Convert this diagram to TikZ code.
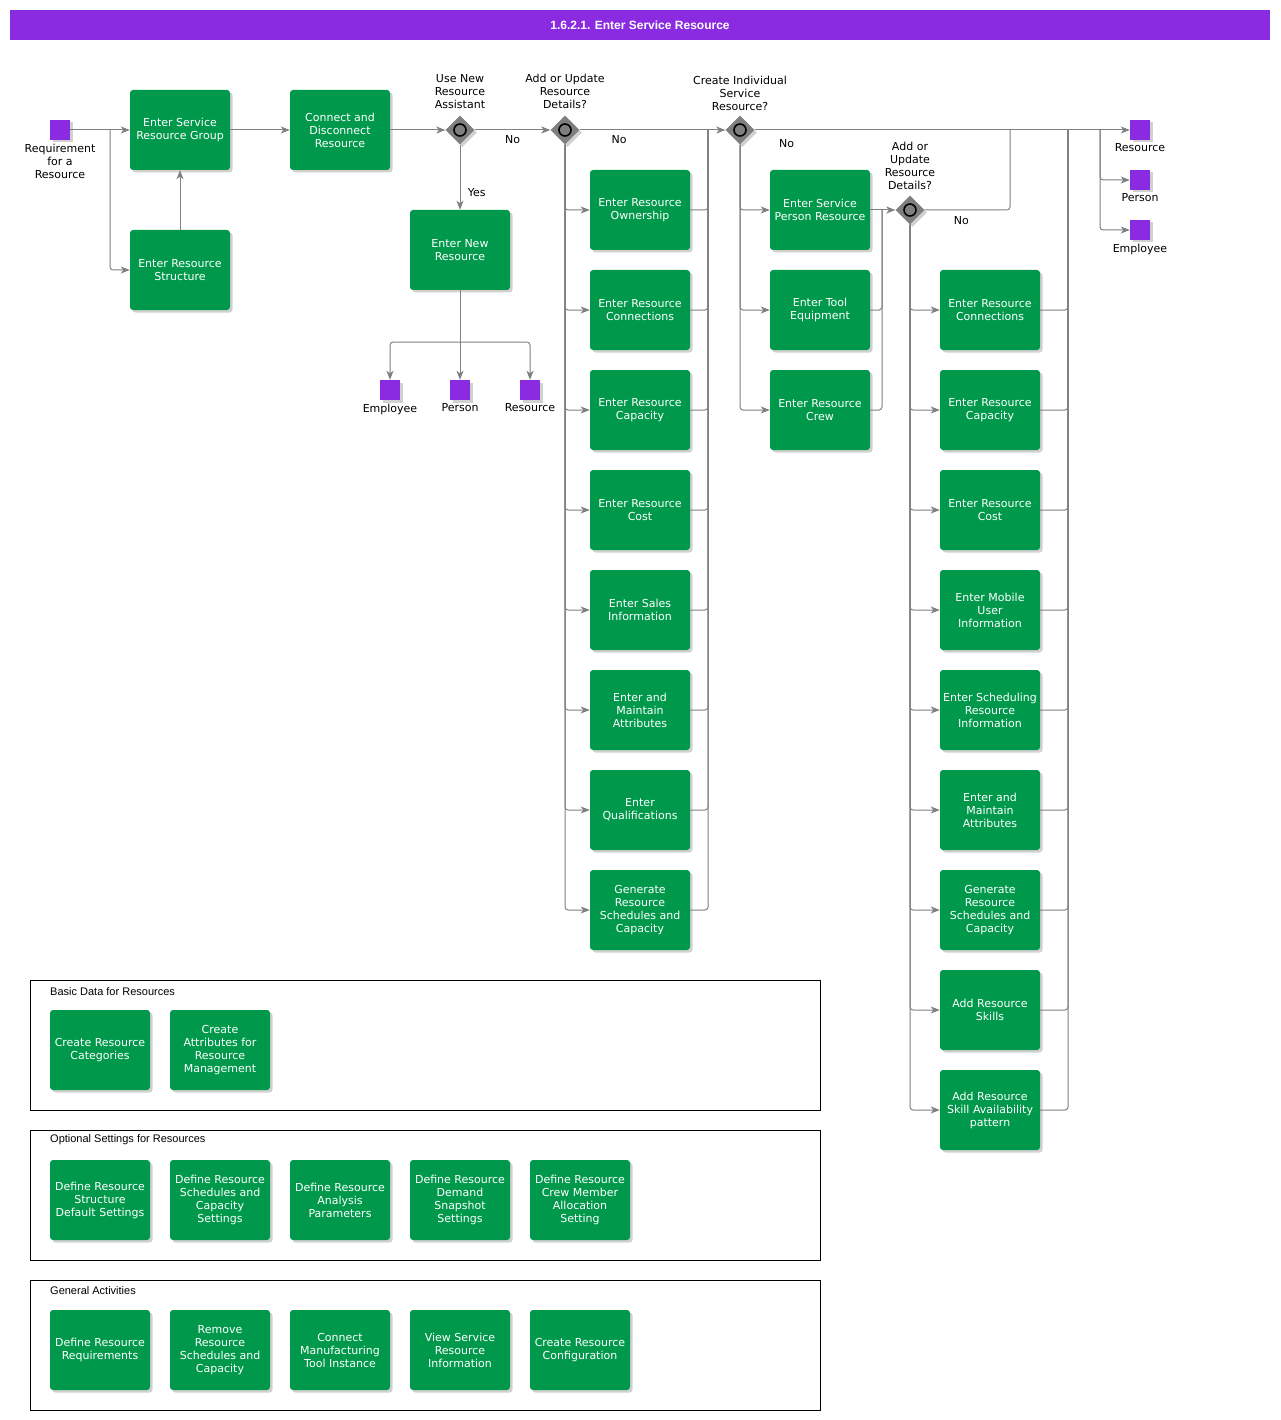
\documentclass[tikz,border=0pt]{standalone}
\usepackage{fontspec}
\setmainfont{DejaVu Sans}
\newfontfamily\lanefont{Liberation Sans}
\usepackage{tikz}
\usetikzlibrary{arrows.meta,positioning,shapes.geometric,shadows}
\usepackage{xcolor}
\definecolor{taskgreen}{HTML}{00994C}
\definecolor{evpurple}{HTML}{8A2BE2}
\definecolor{flowgray}{HTML}{808080}
\definecolor{gwgray}{HTML}{7F7F7F}

\begin{document}
\begin{tikzpicture}[
  x=1pt, y=-1pt,
  font=\fontsize{11}{13}\selectfont,
  every node/.style={align=center},
  softshadow/.style={drop shadow={shadow xshift=2.5pt, shadow yshift=-2.5pt,
                     fill=black!30, opacity=0.6}},
  task/.style={rectangle, rounded corners=3pt, fill=taskgreen, text=white,
               minimum width=100pt, minimum height=80pt, inner sep=1pt, softshadow},
  gate/.style={diamond, fill=gwgray, minimum width=29pt, minimum height=29pt,
               inner sep=0pt, softshadow,
               path picture={\draw[line width=1.6pt, fill=gwgray]
                 (path picture bounding box.center) circle (6pt);}},
  ev/.style={rectangle, fill=evpurple, minimum size=20pt, inner sep=0pt, softshadow},
  lane/.style={draw=black, line width=1pt, minimum width=790pt,
               minimum height=130pt, inner sep=0pt},
  lanetitle/.style={anchor=west, inner sep=0pt,
                    font=\lanefont\fontsize{11}{13}\selectfont},
  flow/.style={draw=flowgray, line width=1pt, rounded corners=3pt},
  arr/.style={flow, -{Stealth[length=9pt, width=7pt, inset=2.5pt]}}
]
\useasboundingbox (0,0) rectangle (1280,1420);

% title bar
\node[fill=evpurple, minimum width=1260pt, minimum height=30pt, text=white,
      font=\lanefont\bfseries\fontsize{12}{14}\selectfont] (title) at (640,25)
      {1.6.2.1. Enter Service Resource};

% start and first tasks
\node[ev, label={below:Requirement\\for a\\Resource}] (req) at (60,130) {};
\node[task] (esrg) at (180,130) {Enter Service\\Resource Group};
\node[task] (ers) at (180,270) {Enter Resource\\Structure};
\node[task] (cdr) at (340,130) {Connect and\\Disconnect\\Resource};

% gateways
\node[gate, label={[label distance=3pt]above:Use New\\Resource\\Assistant}] (g1) at (460,130) {};
\node[gate, label={[label distance=3pt]above:Add or Update\\Resource\\Details?}] (g2) at (565,130) {};
\node[gate, label={[label distance=1pt]above:Create Individual\\Service\\Resource?}] (g3) at (740,130) {};
\node[gate, label={[label distance=2pt]above:Add or\\Update\\Resource\\Details?}] (g4) at (910,210) {};

% new resource branch
\node[task] (enr) at (460,250) {Enter New\\Resource};
\node[ev, label={below:Employee}] (pemp) at (390,390) {};
\node[ev, label={below:Person}] (pper) at (460,390) {};
\node[ev, label={below:Resource}] (pres) at (530,390) {};

% resource details
\node[task] (own) at (640,210) {Enter Resource\\Ownership};
\node[task] (con1) at (640,310) {Enter Resource\\Connections};
\node[task] (cap1) at (640,410) {Enter Resource\\Capacity};
\node[task] (cost1) at (640,510) {Enter Resource\\Cost};
\node[task] (sales) at (640,610) {Enter Sales\\Information};
\node[task] (attr1) at (640,710) {Enter and\\Maintain\\Attributes};
\node[task] (qual) at (640,810) {Enter\\Qualifications};
\node[task] (gen1) at (640,910) {Generate\\Resource\\Schedules and\\Capacity};

% individual resources
\node[task] (spr) at (820,210) {Enter Service\\Person Resource};
\node[task] (tool) at (820,310) {Enter Tool\\Equipment};
\node[task] (crew) at (820,410) {Enter Resource\\Crew};

% individual resource details
\node[task] (con2) at (990,310) {Enter Resource\\Connections};
\node[task] (cap2) at (990,410) {Enter Resource\\Capacity};
\node[task] (cost2) at (990,510) {Enter Resource\\Cost};
\node[task] (mob) at (990,610) {Enter Mobile\\User\\Information};
\node[task] (sched) at (990,710) {Enter Scheduling\\Resource\\Information};
\node[task] (attr2) at (990,810) {Enter and\\Maintain\\Attributes};
\node[task] (gen2) at (990,910) {Generate\\Resource\\Schedules and\\Capacity};
\node[task] (skill) at (990,1010) {Add Resource\\Skills};
\node[task] (avail) at (990,1110) {Add Resource\\Skill Availability\\pattern};

% end events
\node[ev, label={below:Resource}] (eres) at (1140,130) {};
\node[ev, label={below:Person}] (eper) at (1140,180) {};
\node[ev, label={below:Employee}] (eemp) at (1140,230) {};

% junction points
\coordinate (rq) at (110,130);
\coordinate (nr) at (460,342);
\coordinate (m2) at (708,130);
\coordinate (m3) at (882,210);
\coordinate (t4) at (1010,210);
\coordinate (j4) at (1010,130);
\coordinate (m4) at (1068,130);
\coordinate (sp) at (1100,130);

% flows
\draw[arr] (req) -- (esrg);
\draw[arr] (rq) |- (ers);
\draw[arr] (ers) -- (esrg);
\draw[arr] (esrg) -- (cdr);
\draw[arr] (cdr) -- (g1);
\draw[arr] (g1) -- node[below, yshift=-2pt]{No} (g2);
\draw[arr] (g1) -- node[pos=0.73, right, xshift=4pt]{Yes} (enr);
\draw[arr] (enr) -- (pper);
\draw[arr] (nr) -| (pemp);
\draw[arr] (nr) -| (pres);

\draw[arr] (g2) -- node[pos=0.27, below, yshift=-2pt]{No} (g3);
\draw[arr] (g2) |- (own);
\draw[arr] (g2) |- (con1);
\draw[arr] (g2) |- (cap1);
\draw[arr] (g2) |- (cost1);
\draw[arr] (g2) |- (sales);
\draw[arr] (g2) |- (attr1);
\draw[arr] (g2) |- (qual);
\draw[arr] (g2) |- (gen1);
\draw[flow] (own) -| (m2);
\draw[flow] (con1) -| (m2);
\draw[flow] (cap1) -| (m2);
\draw[flow] (cost1) -| (m2);
\draw[flow] (sales) -| (m2);
\draw[flow] (attr1) -| (m2);
\draw[flow] (qual) -| (m2);
\draw[flow] (gen1) -| (m2);

\draw[arr] (g3) -- node[pos=0.085, below, yshift=-6pt]{No} (eres);
\draw[arr] (g3) |- (spr);
\draw[arr] (g3) |- (tool);
\draw[arr] (g3) |- (crew);
\draw[arr] (spr) -- (g4);
\draw[flow] (tool) -| (m3);
\draw[flow] (crew) -| (m3);

\draw[flow] (g4) -- node[pos=0.43, below, yshift=-3pt]{No} (t4) -- (j4);
\draw[arr] (g4) |- (con2);
\draw[arr] (g4) |- (cap2);
\draw[arr] (g4) |- (cost2);
\draw[arr] (g4) |- (mob);
\draw[arr] (g4) |- (sched);
\draw[arr] (g4) |- (attr2);
\draw[arr] (g4) |- (gen2);
\draw[arr] (g4) |- (skill);
\draw[arr] (g4) |- (avail);
\draw[flow] (con2) -| (m4);
\draw[flow] (cap2) -| (m4);
\draw[flow] (cost2) -| (m4);
\draw[flow] (mob) -| (m4);
\draw[flow] (sched) -| (m4);
\draw[flow] (attr2) -| (m4);
\draw[flow] (gen2) -| (m4);
\draw[flow] (skill) -| (m4);
\draw[flow] (avail) -| (m4);
\draw[arr] (sp) |- (eper);
\draw[arr] (sp) |- (eemp);

% lanes of other activities
\node[lane] (basic) at (425,1045) {};
\node[lanetitle] (basictitle) at (50,992) {Basic Data for Resources};
\node[task] (cat) at (100,1050) {Create Resource\\Categories};
\node[task] (cattr) at (220,1050) {Create\\Attributes for\\Resource\\Management};

\node[lane] (optional) at (425,1195) {};
\node[lanetitle] (optionaltitle) at (50,1140) {Optional Settings for Resources};
\node[task] (dstruct) at (100,1200) {Define Resource\\Structure\\Default Settings};
\node[task] (dsched) at (220,1200) {Define Resource\\Schedules and\\Capacity\\Settings};
\node[task] (danal) at (340,1200) {Define Resource\\Analysis\\Parameters};
\node[task] (ddemand) at (460,1200) {Define Resource\\Demand\\Snapshot\\Settings};
\node[task] (dcrew) at (580,1200) {Define Resource\\Crew Member\\Allocation\\Setting};

\node[lane] (general) at (425,1345) {};
\node[lanetitle] (generaltitle) at (50,1291) {General Activities};
\node[task] (dreq) at (100,1350) {Define Resource\\Requirements};
\node[task] (rsched) at (220,1350) {Remove\\Resource\\Schedules and\\Capacity};
\node[task] (cmti) at (340,1350) {Connect\\Manufacturing\\Tool Instance};
\node[task] (vsri) at (460,1350) {View Service\\Resource\\Information};
\node[task] (crc) at (580,1350) {Create Resource\\Configuration};
\end{tikzpicture}
\end{document}
